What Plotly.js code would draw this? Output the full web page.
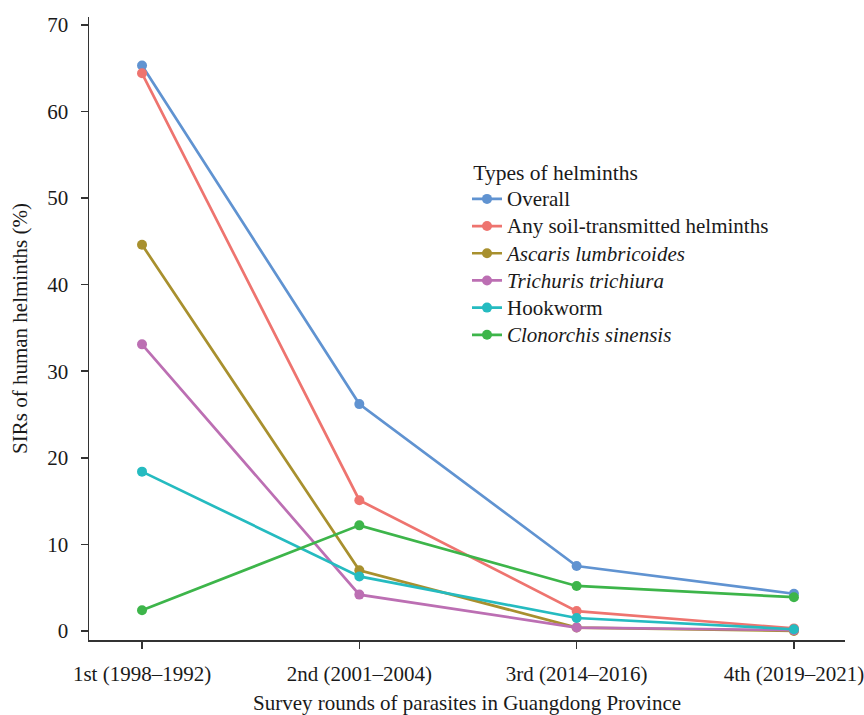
<!DOCTYPE html>
<html>
<head>
<meta charset="utf-8">
<script src="https://cdn.plot.ly/plotly-3.0.1.min.js"></script>
<style>body{margin:0;padding:0;background:#fff;}#chart{width:864px;height:715px;}</style>
</head>
<body>
<div id="chart"></div>
<script>
var rounds = ["1st (1998\u20131992)", "2nd (2001\u20132004)", "3rd (2014\u20132016)", "4th (2019\u20132021)"];
var seriesNames = ["Overall", "Any soil-transmitted helminths", "<i>Ascaris lumbricoides</i>", "<i>Trichuris trichiura</i>", "Hookworm", "<i>Clonorchis sinensis</i>"];
var overall = [65.3, 26.2, 7.5, 4.3];
var anySTH = [64.4, 15.1, 2.3, 0.3];
var ascaris = [44.6, 7.0, 0.4, 0.0];
var trichuris = [33.1, 4.2, 0.4, 0.1];
var hookworm = [18.4, 6.3, 1.5, 0.2];
var clonorchis = [2.4, 12.2, 5.2, 3.9];
var colors = ["#6093D1", "#EE746F", "#A8902E", "#BC6FB3", "#25BBC0", "#3DB54A"];
var allSeries = [overall, anySTH, ascaris, trichuris, hookworm, clonorchis];

var xIdx = rounds.map(function(_, i){ return i; });
var traces = allSeries.map(function(vals, k){
  return {
    x: xIdx, y: vals, name: '<span style="font-size:21px">' + seriesNames[k] + '</span>',
    type: "scatter", mode: "lines+markers",
    line: {color: colors[k], width: 2.7},
    marker: {color: colors[k], size: 10}
  };
});

var fam = "Liberation Serif, Times New Roman, serif";
var txt = "#1a1a1a";
var layout = {
  width: 864, height: 715,
  margin: {l: 89, r: 19, t: 17, b: 75},
  paper_bgcolor: "#fff", plot_bgcolor: "#fff",
  font: {family: fam, color: txt, size: 20},
  showlegend: true,
  legend: {
    x: 0.50, y: 0.789, xanchor: "left", yanchor: "top",
    title: {text: '<span style="font-size:21.5px">\u2009Types of helminths</span>', font: {family: fam, size: 24.5, color: txt}},
    font: {family: fam, size: 18.6, color: txt},
    bgcolor: "rgba(0,0,0,0)", tracegroupgap: 0, itemwidth: 30
  },
  xaxis: {
    range: [-0.244, 3.235],
    tickmode: "array", tickvals: xIdx, ticktext: rounds,
    showgrid: false, zeroline: false,
    showline: true, linecolor: "#333", linewidth: 1.5,
    ticks: "outside", ticklen: 7, tickwidth: 1.5, tickcolor: "#333",
    ticklabelstandoff: 7, ticklabeloverflow: "allow",
    tickfont: {family: fam, size: 21, color: txt},
    title: {text: "Survey rounds of parasites in Guangdong Province", font: {family: fam, size: 21, color: txt}, standoff: 14}
  },
  yaxis: {
    range: [-1.04, 70.9],
    tickvals: [0, 10, 20, 30, 40, 50, 60, 70],
    showgrid: false, zeroline: false,
    showline: true, linecolor: "#333", linewidth: 1.5,
    ticks: "outside", ticklen: 7, tickwidth: 1.5, tickcolor: "#333",
    ticklabelstandoff: 8,
    tickfont: {family: fam, size: 21, color: txt},
    title: {text: "SIRs of human helminths (%)", font: {family: fam, size: 21, color: txt}, standoff: 14}
  }
};
Plotly.newPlot("chart", traces, layout, {displayModeBar: false, staticPlot: true});
</script>
</body>
</html>
